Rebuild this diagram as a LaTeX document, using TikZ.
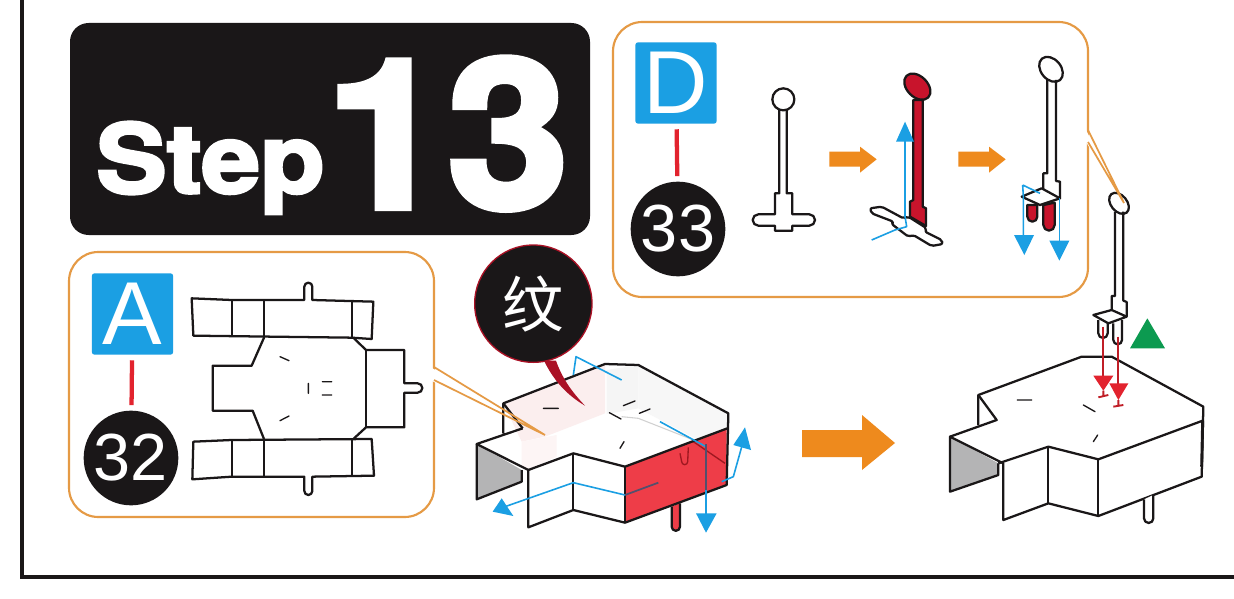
\documentclass[tikz,border=0pt]{standalone}
\usepackage{fontspec}
\setmainfont{Liberation Sans}
\newfontfamily\cjk{Noto Sans CJK SC}
\newfontfamily\heavy[BoldFeatures={FakeBold=3}]{TeX Gyre Heros}
\usetikzlibrary{calc}
\definecolor{outline}{HTML}{1A1718}
\definecolor{cropblue}{HTML}{1B9FE3}
\definecolor{panelline}{HTML}{E59A45}
\definecolor{signred}{HTML}{E2232E}
\definecolor{wallred}{HTML}{EE3D48}
\definecolor{pinred}{HTML}{C8142C}
\definecolor{bigorange}{HTML}{EE8A1D}
\definecolor{wallgrey}{HTML}{B4B4B5}
\definecolor{okgreen}{HTML}{0C9A50}
\definecolor{palepink}{HTML}{FBEEEE}
\tikzset{
  % coordinates inside these scopes are read off a 3x crop of the page
  crop/.style 2 args={shift={(#1,#2)},x=0.25pt,y=-0.25pt},
  panelbox/.style={draw=panelline, line width=1.6pt, fill=white, rounded corners=22pt},
  lettersign/.style={fill=cropblue, rounded corners=2pt, minimum size=61pt, inner sep=0pt,
                     text=white, font=\fontsize{67}{67}\selectfont},
  partsign/.style={circle, fill=outline, minimum size=71pt, inner sep=0pt,
                   text=white, font=\fontsize{50}{50}\selectfont},
  signlink/.style={draw=signred, line width=3.2pt, shorten >=4pt, shorten <=4pt},
  ink/.style={draw=outline, line width=1.7pt, line join=round},
  thinink/.style={draw=outline, line width=1pt, line cap=round},
  fold/.style={draw=cropblue, line width=1.2pt, line join=round},
  foldhead/.style={fill=cropblue},
  pushhead/.style={fill=signred},
  pushline/.style={draw=signred!85!black, line width=1.4pt},
  orangeline/.style={draw=panelline, line width=1.3pt},
  orangearrow/.style={fill=bigorange},
}
\begin{document}
\begin{tikzpicture}[x=0.75pt,y=-0.75pt]
  \useasboundingbox (0,0) rectangle (1234,599);
  \fill[white] (0,0) rectangle (1234,599);

  % --- page frame and title -------------------------------------------------
  \draw[outline, line width=3pt] (22,-5) -- (22,577) -- (1240,577);
  \fill[outline, rounded corners=14pt] (70,23) rectangle (590,235);
  \node[text=white, font=\heavy\bfseries\fontsize{72}{72}\selectfont, anchor=base west, inner sep=0pt,
    xscale=1.1] (steptext) at (96,193) {Step};
  \node[text=white, font=\heavy\bfseries\fontsize{156}{156}\selectfont, anchor=base east, inner sep=0pt,
    xscale=1.05] (stepnumber) at (569,208) {13};

  % --- panel with part A ----------------------------------------------------
  \draw[panelbox] (69,252) rectangle (434,517);
  \fill[white] (432,368) -- (545,435) -- (432,381) -- cycle;

  \node[lettersign] (signA) at (132.5,314) {A};
  \node[partsign]   (partA) at (131,458) {32};
  \draw[signlink] (signA) -- (partA);

  \begin{scope}[crop={60}{245}]
    \draw[ink] (395,160) -- (515,165) -- (733,165) -- (733,125) arc (180:360:12) -- (757,165)
      -- (940,170) -- (935,282) -- (875,278) -- (400,272) -- cycle;
    \draw[ink] (515,165) -- (515,276) (612,165) -- (612,278) (875,165) -- (875,278);
    \draw[ink] (612,278) -- (575,362) -- (458,362) -- (458,497) -- (578,497) -- (612,582);
    \draw[ink] (880,278) -- (918,315) -- (1033,315) -- (1033,415) -- (1073,415) arc (-90:90:14)
      -- (1033,443) -- (1033,547) -- (918,547) -- (880,582);
    \draw[ink] (918,315) -- (918,547);
    \draw[ink] (400,590) -- (515,585) -- (935,582) -- (942,692) -- (757,695) -- (757,738) arc (0:180:12)
      -- (733,695) -- (515,695) -- (397,703) -- cycle;
    \draw[ink] (515,585) -- (515,695) (612,582) -- (612,695) (875,582) -- (875,695);
    \draw[thinink] (660,335) -- (687,347) (745,415) -- (745,445) (787,410) -- (815,410)
      (787,450) -- (815,450) (660,527) -- (687,513);
  \end{scope}

  % --- first box, walls being folded ----------------------------------------
  \begin{scope}[crop={450}{240}]
    \fill[palepink] (160,490) -- (465,372) -- (465,520) -- (285,590) -- (215,605) -- cycle;
    \fill[palepink!60] (215,605) -- (320,585) -- (320,650) -- (235,688) -- (215,680) -- cycle;
    \fill[black!4] (470,390) -- (565,375) -- (565,505) -- (470,522) -- cycle;
    \fill[black!3] (565,375) -- (835,520) -- (835,565) -- (745,600) -- (565,505) -- cycle;
    \draw[black!18, line width=0.8pt] (515,530) -- (565,535) -- (730,600);
    \fill[wallgrey] (80,612) -- (215,690) -- (215,725) -- (80,778) -- cycle;
    \fill[wallred] (525,680) -- (830,565) -- (830,735) -- (525,848) -- cycle;
    \draw[ink, fill=wallred] (665,800) -- (665,860) arc (180:0:12.5) -- (690,790);
    \draw[signred!70!black, line width=1pt] (690,640) -- (695,665) arc (180:0:9) -- (715,622);
    \draw[signred!70!black, line width=1pt] (730,605) -- (825,670);
    \draw[ink] (160,580) -- (160,490) -- (465,372) -- (565,375) -- (835,520) -- (830,735) -- (525,848)
      -- (370,810) -- (235,862) -- (235,690) -- (80,612) -- (218,565);
    \draw[ink] (160,490) -- (218,565);
    \draw[ink] (80,612) -- (80,778) -- (215,725) -- (215,690);
    \draw[ink] (235,690) -- (370,640) -- (525,680) -- (832,565);
    \draw[ink] (370,640) -- (370,810) (525,680) -- (525,848);
    \draw[thinink] (280,505) -- (325,505) (520,497) -- (555,483) (568,520) -- (600,507)
      (478,518) -- (513,537) (510,625) -- (522,605);
    \draw[fold] (370,405) -- (378,350) -- (515,420);
    \draw[fold] (630,545) -- (768,620) -- (768,830);
    \fill[foldhead] (738,820) -- (800,820) -- (768,878) -- cycle;
    \draw[fold] (525,765) -- (370,728) -- (165,800);
    \fill[foldhead] (155,775) -- (190,828) -- (128,815) -- cycle;
    \draw[fold] (815,725) -- (850,710) -- (878,610);
    \fill[foldhead] (850,615) -- (903,630) -- (885,562) -- cycle;
    \draw[draw=cropblue!55!black!70!wallred, line width=1.3pt] (625,728) -- (525,765);
    \draw[draw=cropblue!55!black!70!wallred, line width=1.3pt] (768,612) -- (768,750);
    % speech balloon
    \fill[pinred!85!black] (282,362) .. controls (310,420) and (350,465) .. (405,497)
      .. controls (360,450) and (335,410) .. (318,362) -- cycle;
    \node[circle, fill=outline, draw=pinred!85!black, line width=1pt, minimum size=88pt, inner sep=0pt,
      text=white, font=\cjk\fontsize{46}{46}\selectfont] (balloon) at (250,191) {纹};
  \end{scope}
  % callout of panel A runs over the box
  \draw[orangeline] (434,367) -- (545,435) -- (434,380);

  % --- big arrow between the boxes ------------------------------------------
  \fill[orangearrow] (802,430) -- (862,430) -- (862,415) -- (895,443) -- (862,470) -- (862,457) -- (802,457) -- cycle;

  % --- panel with part D ----------------------------------------------------
  \draw[panelbox] (613,22) rectangle (1088,297);
  \fill[white] (1086,130) -- (1124,203) -- (1086,142) -- cycle;

  \node[lettersign] (signD) at (676,83) {D};
  \node[partsign]   (partD) at (678,229) {33};
  \draw[signlink] (signD) -- (partD);

  \begin{scope}[crop={610}{20}]
    % flat pin
    \draw[ink] (508,268) -- (508,520) -- (495,520) -- (495,583) -- (445,583) arc (-90:-270:17)
      -- (495,617) -- (495,632) -- (547,632) -- (547,617) -- (598,617) arc (90:-90:17)
      -- (547,583) -- (547,520) -- (530,520) -- (530,268);
    \draw[ink] (520,238) circle (33);
    \fill[orangearrow] (658,395) -- (750,395) -- (750,380) -- (800,418) -- (750,458) -- (750,440) -- (658,440) -- cycle;
    % pin with the legs folded
    \draw[ink, fill=white, rounded corners=1.5pt] (780,565) -- (815,560) -- (880,595) -- (895,590) -- (950,625) -- (945,635)
      -- (995,660) -- (998,672) -- (965,678) -- (910,645) -- (895,650) -- (845,612) -- (850,605) -- (785,580) -- cycle;
    \draw[ink, fill=pinred] (910,240) -- (938,240) -- (938,560) -- (948,565) -- (948,618) -- (900,590)
      -- (900,545) -- (910,540) -- cycle;
    \draw[ink, fill=pinred, rotate around={-45:(922,200)}] (922,200) ellipse (46 and 31);
    \draw[fold] (885,590) -- (885,360);
    \fill[foldhead] (858,365) -- (912,365) -- (885,305) -- cycle;
    \draw[fold] (885,590) -- (890,620) -- (855,630) -- (785,660);
    \fill[orangearrow] (1045,395) -- (1137,395) -- (1137,380) -- (1187,418) -- (1137,458) -- (1137,440) -- (1045,440) -- cycle;
    % pin ready to be pushed in
    \draw[ink, fill=pinred] (1252,555) -- (1252,590) arc (180:0:15) -- (1282,555) -- cycle;
    \draw[ink, fill=pinred] (1300,555) -- (1300,615) arc (180:0:17) -- (1334,548) -- cycle;
    \draw[ink, fill=white] (1235,530) -- (1295,505) -- (1350,535) -- (1290,555) -- cycle;
    \draw[ink] (1312,180) -- (1312,460) -- (1300,460) -- (1300,507) (1338,180) -- (1338,483) -- (1350,485) -- (1350,535);
    \draw[ink, rotate around={-50:(1323,148)}] (1323,148) ellipse (42 and 30);
    \draw[fold] (1240,530) -- (1240,650) (1238,495) -- (1290,520) (1240,530) -- (1238,495);
    \fill[foldhead] (1212,645) -- (1272,645) -- (1243,705) -- cycle;
    \draw[fold] (1348,535) -- (1348,665);
    \fill[foldhead] (1318,662) -- (1378,662) -- (1348,722) -- cycle;
  \end{scope}

  % --- finished box with the pin --------------------------------------------
  \begin{scope}[crop={930}{180}]
    \fill[wallgrey] (60,770) -- (205,850) -- (205,885) -- (60,935) -- cycle;
    \draw[ink] (145,735) -- (145,645) -- (455,530) -- (545,530) -- (820,680) -- (815,890) -- (505,1008)
      -- (355,970) -- (220,1020) -- (220,850) -- (60,770) -- (60,935) -- (205,885) -- (205,850);
    \draw[ink] (145,645) -- (200,720) -- (60,770);
    \draw[ink] (205,850) -- (355,800) -- (505,838) -- (818,722);
    \draw[ink] (355,800) -- (355,970) (505,838) -- (505,1008);
    \draw[outline, line width=2.2pt] (818,722) -- (815,860);
    \draw[ink, fill=white] (642,958) -- (642,1015) arc (180:0:14) -- (670,945);
    \draw[thinink] (262,660) -- (305,660) (460,675) -- (495,695) (503,765) -- (490,785);
    % pin
    \draw[ink, fill=white] (505,420) -- (505,460) arc (180:0:14) -- (533,420);
    \draw[ink, fill=white] (550,430) -- (550,480) arc (180:0:13) -- (576,420);
    \draw[ink, fill=white] (490,405) -- (545,390) -- (590,410) -- (535,430) -- cycle;
    \draw[ink] (555,95) -- (555,348) -- (545,348) -- (545,388) (580,95) -- (580,362) -- (590,366) -- (590,410);
    \draw[ink, rotate around={-50:(567,70)}] (567,70) ellipse (36 and 24);
    \draw[pushline] (520,440) -- (520,590);
    \fill[pushhead] (490,587) -- (550,587) -- (520,632) -- cycle;
    \draw[pushline] (505,652) -- (535,645) (520,632) -- (520,648);
    \draw[pushline] (565,470) -- (565,612);
    \fill[pushhead] (538,610) -- (595,610) -- (565,660) -- cycle;
    \draw[pushline] (550,680) -- (580,675) (565,660) -- (565,677);
    \fill[okgreen] (652,415) -- (705,505) -- (600,505) -- cycle;
  \end{scope}
  % callout of panel D runs over the pin head
  \draw[orangeline] (1088,130) -- (1124,203) -- (1088,142);
\end{tikzpicture}
\end{document}
